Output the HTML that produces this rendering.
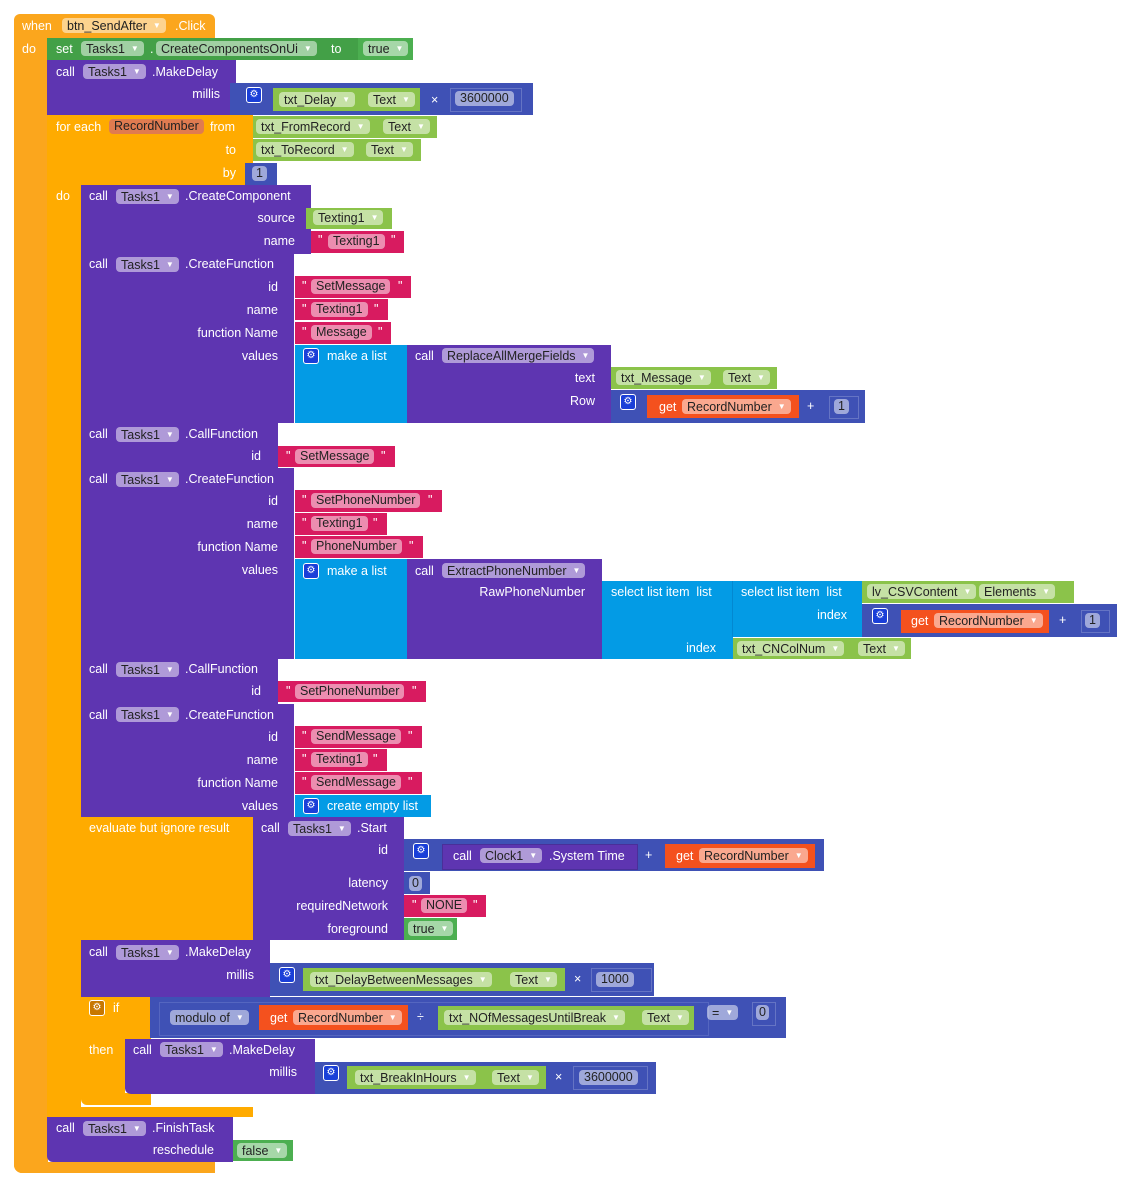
<!DOCTYPE html>
<html><head><meta charset="utf-8"><style>
body{margin:0;width:1136px;height:1196px;background:#fff;position:relative;overflow:hidden;font-family:"Liberation Sans",sans-serif;}
.r{position:absolute;}
.t{position:absolute;color:#fff;font-size:12.5px;line-height:14px;white-space:nowrap;}
.tr{position:absolute;color:#fff;font-size:12.5px;line-height:14px;white-space:nowrap;text-align:right;}
.p{position:absolute;font-size:12.5px;line-height:15px;height:15px;padding:0 5px;border-radius:4px;background:rgba(255,255,255,0.5);color:#222;white-space:nowrap;}
.p i{font-style:normal;font-size:8px;color:#fff;margin-left:6px;vertical-align:2px;}
.g{position:absolute;width:14px;height:14px;border-radius:3px;background:#1a3fd8;border:1px solid #fff;color:#fff;font-size:10px;line-height:14px;text-align:center;}
.E{background:#fba61d}.C{background:#ffab00}.P{background:#5e35b1}.B{background:#3f51b5}.G{background:#8bc34a}.S{background:#d81b60}.L{background:#039be5}.V{background:#f4511e}.D{background:#43a047}.T{background:#4caf50}
</style></head><body>
<!-- event block -->
<div class="r E" style="left:14px;top:14px;width:201px;height:24px;border-radius:6px 6px 0 0"></div>
<div class="r E" style="left:14px;top:37px;width:34px;height:1136px;border-radius:0 0 0 8px"></div>
<div class="r E" style="left:14px;top:1162px;width:201px;height:11px;border-radius:0 0 0 8px"></div>
<span class="t" style="left:22px;top:19px">when</span>
<span class="p" style="left:62px;top:18px">btn_SendAfter<i>▼</i></span>
<span class="t" style="left:175px;top:19px">.Click</span>
<span class="t" style="left:22px;top:42px">do</span>
<!-- set -->
<div class="r D" style="left:47px;top:38px;width:312px;height:22px"></div>
<span class="t" style="left:56px;top:42px">set</span>
<span class="p" style="left:81px;top:41px">Tasks1<i>▼</i></span>
<span class="t" style="left:150px;top:42px">.</span>
<span class="p" style="left:156px;top:41px">CreateComponentsOnUi<i>▼</i></span>
<span class="t" style="left:331px;top:42px">to</span>
<div class="r T" style="left:358px;top:38px;width:55px;height:22px"></div>
<span class="p" style="left:363px;top:41px">true<i>▼</i></span>
<!-- MakeDelay -->
<div class="r P" style="left:47px;top:60px;width:189px;height:55px"></div>
<span class="t" style="left:56px;top:65px">call</span>
<span class="p" style="left:83px;top:64px">Tasks1<i>▼</i></span>
<span class="t" style="left:152px;top:65px">.MakeDelay</span>
<span class="tr" style="right:916px;top:87px">millis</span>
<div class="r B" style="left:230px;top:83px;width:303px;height:32px"></div>
<div class="g" style="left:246px;top:87px">⚙</div>
<div class="r G" style="left:273px;top:88px;width:147px;height:23px"></div>
<span class="p" style="left:279px;top:92px">txt_Delay<i>▼</i></span>
<span class="p" style="left:368px;top:92px">Text<i>▼</i></span>
<span class="t" style="left:431px;top:93px">×</span>
<div class="r B" style="left:450px;top:88px;width:70px;height:22px;border:1px solid #6574c4"></div>
<span class="p" style="left:455px;top:91px">3600000</span>
<!-- for each -->
<div class="r C" style="left:47px;top:115px;width:206px;height:70px"></div>
<div class="r C" style="left:47px;top:184px;width:34px;height:930px"></div>
<div class="r C" style="left:47px;top:1107px;width:206px;height:10px"></div>
<span class="t" style="left:56px;top:120px">for each</span>
<span class="p" style="left:109px;top:119px;background:#e07b50;">RecordNumber</span>
<span class="t" style="left:210px;top:120px">from</span>
<span class="tr" style="right:900px;top:143px">to</span>
<span class="tr" style="right:900px;top:166px">by</span>
<span class="t" style="left:56px;top:189px">do</span>
<div class="r G" style="left:253px;top:116px;width:184px;height:22px"></div>
<span class="p" style="left:256px;top:119px">txt_FromRecord<i>▼</i></span>
<span class="p" style="left:383px;top:119px">Text<i>▼</i></span>
<div class="r G" style="left:253px;top:139px;width:168px;height:22px"></div>
<span class="p" style="left:256px;top:142px">txt_ToRecord<i>▼</i></span>
<span class="p" style="left:366px;top:142px">Text<i>▼</i></span>
<div class="r B" style="left:245px;top:163px;width:32px;height:22px"></div>
<span class="p" style="left:252px;top:166px;padding:0 4px">1</span>
<!-- CreateComponent -->
<div class="r P" style="left:81px;top:185px;width:230px;height:69px"></div>
<span class="t" style="left:89px;top:189px">call</span>
<span class="p" style="left:116px;top:189px">Tasks1<i>▼</i></span>
<span class="t" style="left:185px;top:189px">.CreateComponent</span>
<span class="tr" style="right:841px;top:211px">source</span>
<span class="tr" style="right:841px;top:234px">name</span>
<div class="r G" style="left:306px;top:208px;width:86px;height:21px"></div>
<span class="p" style="left:313px;top:210px">Texting1<i>▼</i></span>
<div class="r S" style="left:311px;top:231px;width:93px;height:22px"></div>
<span class="t" style="left:318px;top:233px">"</span><span class="p" style="left:328px;top:234px">Texting1</span><span class="t" style="left:391px;top:233px">"</span>
<!-- CreateFunction 1 -->
<div class="r P" style="left:81px;top:254px;width:213px;height:169px"></div>
<span class="t" style="left:89px;top:257px">call</span>
<span class="p" style="left:116px;top:257px">Tasks1<i>▼</i></span>
<span class="t" style="left:185px;top:257px">.CreateFunction</span>
<span class="tr" style="right:858px;top:280px">id</span>
<span class="tr" style="right:858px;top:303px">name</span>
<span class="tr" style="right:858px;top:326px">function Name</span>
<span class="tr" style="right:858px;top:349px">values</span>
<div class="r S" style="left:295px;top:276px;width:116px;height:22px"></div>
<span class="t" style="left:302px;top:279px">"</span><span class="p" style="left:311px;top:279px">SetMessage</span><span class="t" style="left:398px;top:279px">"</span>
<div class="r S" style="left:295px;top:299px;width:93px;height:21px"></div>
<span class="t" style="left:302px;top:302px">"</span><span class="p" style="left:311px;top:302px">Texting1</span><span class="t" style="left:374px;top:302px">"</span>
<div class="r S" style="left:295px;top:322px;width:96px;height:22px"></div>
<span class="t" style="left:302px;top:325px">"</span><span class="p" style="left:311px;top:325px">Message</span><span class="t" style="left:378px;top:325px">"</span>
<div class="r L" style="left:295px;top:345px;width:112px;height:78px"></div>
<div class="g" style="left:303px;top:348px">⚙</div>
<span class="t" style="left:327px;top:349px">make a list</span>
<div class="r P" style="left:407px;top:345px;width:204px;height:78px"></div>
<span class="t" style="left:415px;top:349px">call</span>
<span class="p" style="left:442px;top:348px">ReplaceAllMergeFields<i>▼</i></span>
<span class="tr" style="right:541px;top:371px">text</span>
<span class="tr" style="right:541px;top:394px">Row</span>
<div class="r G" style="left:611px;top:367px;width:166px;height:22px"></div>
<span class="p" style="left:616px;top:370px">txt_Message<i>▼</i></span>
<span class="p" style="left:723px;top:370px">Text<i>▼</i></span>
<div class="r B" style="left:611px;top:390px;width:254px;height:33px"></div>
<div class="g" style="left:620px;top:394px">⚙</div>
<div class="r V" style="left:647px;top:395px;width:152px;height:23px"></div>
<span class="t" style="left:659px;top:400px">get</span>
<span class="p" style="left:682px;top:399px">RecordNumber<i>▼</i></span>
<span class="t" style="left:807px;top:399px">+</span>
<div class="r B" style="left:829px;top:396px;width:28px;height:21px;border:1px solid #6574c4"></div>
<span class="p" style="left:834px;top:399px;padding:0 4px">1</span>
<!-- CallFunction 1 -->
<div class="r P" style="left:81px;top:423px;width:197px;height:45px"></div>
<span class="t" style="left:89px;top:427px">call</span>
<span class="p" style="left:116px;top:427px">Tasks1<i>▼</i></span>
<span class="t" style="left:185px;top:427px">.CallFunction</span>
<span class="tr" style="right:875px;top:449px">id</span>
<div class="r S" style="left:278px;top:446px;width:117px;height:21px"></div>
<span class="t" style="left:286px;top:449px">"</span><span class="p" style="left:295px;top:449px">SetMessage</span><span class="t" style="left:381px;top:449px">"</span>
<!-- CreateFunction 2 -->
<div class="r P" style="left:81px;top:468px;width:213px;height:191px"></div>
<span class="t" style="left:89px;top:472px">call</span>
<span class="p" style="left:116px;top:472px">Tasks1<i>▼</i></span>
<span class="t" style="left:185px;top:472px">.CreateFunction</span>
<span class="tr" style="right:858px;top:494px">id</span>
<span class="tr" style="right:858px;top:517px">name</span>
<span class="tr" style="right:858px;top:540px">function Name</span>
<span class="tr" style="right:858px;top:563px">values</span>
<div class="r S" style="left:295px;top:490px;width:147px;height:22px"></div>
<span class="t" style="left:302px;top:493px">"</span><span class="p" style="left:311px;top:493px">SetPhoneNumber</span><span class="t" style="left:428px;top:493px">"</span>
<div class="r S" style="left:295px;top:513px;width:92px;height:22px"></div>
<span class="t" style="left:302px;top:516px">"</span><span class="p" style="left:311px;top:516px">Texting1</span><span class="t" style="left:373px;top:516px">"</span>
<div class="r S" style="left:295px;top:536px;width:128px;height:22px"></div>
<span class="t" style="left:302px;top:539px">"</span><span class="p" style="left:311px;top:539px">PhoneNumber</span><span class="t" style="left:409px;top:539px">"</span>
<div class="r L" style="left:295px;top:559px;width:112px;height:100px"></div>
<div class="g" style="left:303px;top:563px">⚙</div>
<span class="t" style="left:327px;top:564px">make a list</span>
<div class="r P" style="left:407px;top:559px;width:195px;height:100px"></div>
<span class="t" style="left:415px;top:564px">call</span>
<span class="p" style="left:442px;top:563px">ExtractPhoneNumber<i>▼</i></span>
<span class="tr" style="right:551px;top:585px">RawPhoneNumber</span>
<div class="r L" style="left:602px;top:581px;width:131px;height:78px"></div>
<span class="t" style="left:611px;top:585px">select list item&nbsp; list</span>
<span class="tr" style="right:420px;top:641px">index</span>
<div class="r L" style="left:733px;top:581px;width:129px;height:56px;box-shadow:-1px 0 0 #0288d1"></div>
<span class="t" style="left:741px;top:585px">select list item&nbsp; list</span>
<span class="tr" style="right:289px;top:608px">index</span>
<div class="r G" style="left:862px;top:581px;width:212px;height:22px"></div>
<span class="p" style="left:867px;top:584px">lv_CSVContent<i>▼</i></span>
<span class="p" style="left:979px;top:584px">Elements<i>▼</i></span>
<div class="r B" style="left:862px;top:604px;width:255px;height:33px"></div>
<div class="g" style="left:872px;top:608px">⚙</div>
<div class="r V" style="left:901px;top:610px;width:148px;height:23px"></div>
<span class="t" style="left:911px;top:614px">get</span>
<span class="p" style="left:934px;top:613px">RecordNumber<i>▼</i></span>
<span class="t" style="left:1059px;top:613px">+</span>
<div class="r B" style="left:1081px;top:610px;width:27px;height:21px;border:1px solid #6574c4"></div>
<span class="p" style="left:1085px;top:613px;padding:0 4px">1</span>
<div class="r G" style="left:733px;top:638px;width:178px;height:21px"></div>
<span class="p" style="left:737px;top:641px">txt_CNColNum<i>▼</i></span>
<span class="p" style="left:858px;top:641px">Text<i>▼</i></span>
<!-- CallFunction 2 -->
<div class="r P" style="left:81px;top:659px;width:197px;height:45px"></div>
<span class="t" style="left:89px;top:662px">call</span>
<span class="p" style="left:116px;top:662px">Tasks1<i>▼</i></span>
<span class="t" style="left:185px;top:662px">.CallFunction</span>
<span class="tr" style="right:875px;top:684px">id</span>
<div class="r S" style="left:278px;top:681px;width:148px;height:21px"></div>
<span class="t" style="left:286px;top:684px">"</span><span class="p" style="left:295px;top:684px">SetPhoneNumber</span><span class="t" style="left:412px;top:684px">"</span>
<!-- CreateFunction 3 -->
<div class="r P" style="left:81px;top:704px;width:213px;height:113px"></div>
<span class="t" style="left:89px;top:708px">call</span>
<span class="p" style="left:116px;top:707px">Tasks1<i>▼</i></span>
<span class="t" style="left:185px;top:708px">.CreateFunction</span>
<span class="tr" style="right:858px;top:730px">id</span>
<span class="tr" style="right:858px;top:753px">name</span>
<span class="tr" style="right:858px;top:776px">function Name</span>
<span class="tr" style="right:858px;top:799px">values</span>
<div class="r S" style="left:295px;top:726px;width:127px;height:22px"></div>
<span class="t" style="left:302px;top:729px">"</span><span class="p" style="left:311px;top:729px">SendMessage</span><span class="t" style="left:408px;top:729px">"</span>
<div class="r S" style="left:295px;top:749px;width:92px;height:22px"></div>
<span class="t" style="left:302px;top:752px">"</span><span class="p" style="left:311px;top:752px">Texting1</span><span class="t" style="left:373px;top:752px">"</span>
<div class="r S" style="left:295px;top:772px;width:127px;height:22px"></div>
<span class="t" style="left:302px;top:775px">"</span><span class="p" style="left:311px;top:775px">SendMessage</span><span class="t" style="left:408px;top:775px">"</span>
<div class="r L" style="left:295px;top:795px;width:136px;height:22px"></div>
<div class="g" style="left:303px;top:798px">⚙</div>
<span class="t" style="left:327px;top:799px">create empty list</span>
<!-- evaluate -->
<div class="r C" style="left:81px;top:817px;width:172px;height:123px"></div>
<span class="t" style="left:89px;top:821px">evaluate but ignore result</span>
<div class="r P" style="left:253px;top:817px;width:151px;height:123px"></div>
<span class="t" style="left:261px;top:821px">call</span>
<span class="p" style="left:288px;top:821px">Tasks1<i>▼</i></span>
<span class="t" style="left:357px;top:821px">.Start</span>
<span class="tr" style="right:748px;top:843px">id</span>
<span class="tr" style="right:748px;top:876px">latency</span>
<span class="tr" style="right:748px;top:899px">requiredNetwork</span>
<span class="tr" style="right:748px;top:922px">foreground</span>
<div class="r B" style="left:404px;top:839px;width:420px;height:32px"></div>
<div class="g" style="left:413px;top:843px">⚙</div>
<div class="r P" style="left:442px;top:844px;width:194px;height:24px;border:1px solid #4a2f99"></div>
<span class="t" style="left:453px;top:849px">call</span>
<span class="p" style="left:480px;top:848px">Clock1<i>▼</i></span>
<span class="t" style="left:549px;top:849px">.System Time</span>
<span class="t" style="left:645px;top:848px">+</span>
<div class="r V" style="left:665px;top:844px;width:150px;height:24px"></div>
<span class="t" style="left:676px;top:849px">get</span>
<span class="p" style="left:699px;top:848px">RecordNumber<i>▼</i></span>
<div class="r B" style="left:404px;top:872px;width:26px;height:22px"></div>
<span class="p" style="left:409px;top:876px;padding:0 3px">0</span>
<div class="r S" style="left:404px;top:895px;width:82px;height:22px"></div>
<span class="t" style="left:412px;top:898px">"</span><span class="p" style="left:421px;top:898px">NONE</span><span class="t" style="left:473px;top:898px">"</span>
<div class="r T" style="left:404px;top:918px;width:53px;height:22px"></div>
<span class="p" style="left:408px;top:921px">true<i>▼</i></span>
<!-- MakeDelay 2 -->
<div class="r P" style="left:81px;top:940px;width:189px;height:57px"></div>
<span class="t" style="left:89px;top:945px">call</span>
<span class="p" style="left:116px;top:945px">Tasks1<i>▼</i></span>
<span class="t" style="left:185px;top:945px">.MakeDelay</span>
<span class="tr" style="right:882px;top:968px">millis</span>
<div class="r B" style="left:270px;top:963px;width:384px;height:33px"></div>
<div class="g" style="left:279px;top:967px">⚙</div>
<div class="r G" style="left:303px;top:968px;width:262px;height:23px"></div>
<span class="p" style="left:310px;top:972px">txt_DelayBetweenMessages<i>▼</i></span>
<span class="p" style="left:510px;top:972px">Text<i>▼</i></span>
<span class="t" style="left:574px;top:972px">×</span>
<div class="r B" style="left:591px;top:968px;width:59px;height:22px;border:1px solid #6574c4"></div>
<span class="p" style="left:596px;top:972px">1000</span>
<!-- if -->
<div class="r C" style="left:81px;top:997px;width:70px;height:42px"></div>
<div class="r C" style="left:81px;top:1038px;width:44px;height:56px"></div>
<div class="r C" style="left:81px;top:1093px;width:70px;height:12px;border-radius:0 0 0 6px"></div>
<div class="g" style="left:89px;top:1000px;background:#c87800">⚙</div>
<span class="t" style="left:113px;top:1001px">if</span>
<span class="t" style="left:89px;top:1043px">then</span>
<div class="r B" style="left:150px;top:997px;width:636px;height:41px"></div>
<div class="r B" style="left:159px;top:1002px;width:548px;height:32px;border:1px solid #5566c0"></div>
<span class="p" style="left:170px;top:1010px">modulo of<i>▼</i></span>
<div class="r V" style="left:259px;top:1005px;width:149px;height:25px"></div>
<span class="t" style="left:270px;top:1011px">get</span>
<span class="p" style="left:293px;top:1010px">RecordNumber<i>▼</i></span>
<span class="t" style="left:417px;top:1010px">÷</span>
<div class="r G" style="left:438px;top:1006px;width:256px;height:24px"></div>
<span class="p" style="left:444px;top:1010px">txt_NOfMessagesUntilBreak<i>▼</i></span>
<span class="p" style="left:642px;top:1010px">Text<i>▼</i></span>
<span class="p" style="left:707px;top:1005px">=<i>▼</i></span>
<div class="r B" style="left:752px;top:1002px;width:22px;height:22px;border:1px solid #6574c4"></div>
<span class="p" style="left:756px;top:1005px;padding:0 3px">0</span>
<div class="r P" style="left:125px;top:1039px;width:190px;height:55px;border-radius:0 0 0 6px"></div>
<span class="t" style="left:133px;top:1043px">call</span>
<span class="p" style="left:160px;top:1042px">Tasks1<i>▼</i></span>
<span class="t" style="left:229px;top:1043px">.MakeDelay</span>
<span class="tr" style="right:839px;top:1065px">millis</span>
<div class="r B" style="left:315px;top:1062px;width:341px;height:32px"></div>
<div class="g" style="left:323px;top:1065px">⚙</div>
<div class="r G" style="left:347px;top:1066px;width:199px;height:23px"></div>
<span class="p" style="left:355px;top:1070px">txt_BreakInHours<i>▼</i></span>
<span class="p" style="left:492px;top:1070px">Text<i>▼</i></span>
<span class="t" style="left:555px;top:1070px">×</span>
<div class="r B" style="left:573px;top:1066px;width:73px;height:22px;border:1px solid #6574c4"></div>
<span class="p" style="left:579px;top:1070px">3600000</span>
<!-- FinishTask -->
<div class="r P" style="left:47px;top:1117px;width:186px;height:45px;border-radius:0 0 0 6px"></div>
<span class="t" style="left:56px;top:1121px">call</span>
<span class="p" style="left:83px;top:1121px">Tasks1<i>▼</i></span>
<span class="t" style="left:152px;top:1121px">.FinishTask</span>
<span class="tr" style="right:922px;top:1143px">reschedule</span>
<div class="r T" style="left:233px;top:1140px;width:60px;height:21px"></div>
<span class="p" style="left:237px;top:1143px">false<i>▼</i></span>
</body></html>
